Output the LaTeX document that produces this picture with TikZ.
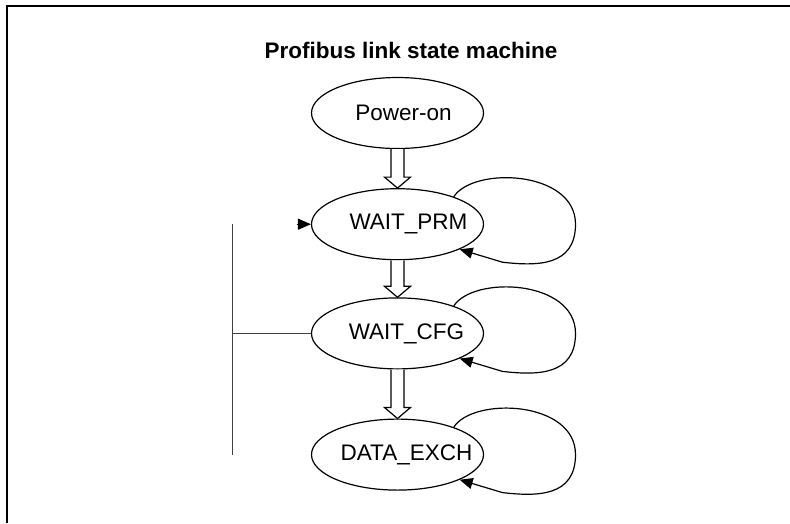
\documentclass[tikz,border=0pt]{standalone}
\usepackage{fontspec}
\setmainfont{Liberation Sans}
\usetikzlibrary{positioning,arrows.meta,calc,shapes.geometric}
\tikzset{
  st/.style={draw,ellipse,line width=1.2pt,minimum width=172pt,minimum height=71pt,inner sep=0pt},
  lbl/.style={xshift=9pt,font=\fontsize{22.5}{26}\selectfont},
  hol/.style={draw,fill=white,line width=1.2pt,line join=miter},
  arr/.style={-{Triangle[length=13pt,width=11pt]},line width=1.2pt},
  bus/.style={draw=black!75,line width=1pt},
  frm/.style={line width=2.6pt},
}

\begin{document}
\begin{tikzpicture}[x=1pt,y=-1pt]
  \useasboundingbox (0,0) rectangle (790,523);
  \draw[frm] (7,523) -- (7,6) -- (790,6);
  \node[font=\bfseries\fontsize{22.5}{26}\selectfont] (title) at (411,50) {Profibus link state machine};
  \node[st,label={[lbl,xshift=-3pt]center:Power-on}] (pwr) at (397.5,113) {};
  \node[st,below=39pt of pwr,label={[lbl,xshift=2pt]center:WAIT\_PRM}] (prm) {};
  \node[st,below=37pt of prm,label={[lbl]center:WAIT\_CFG}] (cfg) {};
  \node[st,below=49pt of cfg,label={[lbl]center:DATA\_EXCH}] (data) {};
  % hollow arrows between states
  \foreach \a/\b in {pwr/prm,prm/cfg,cfg/data}{
    \draw[hol] ($(\a.south)+(-6.5,0)$) -- ($(\b.north)+(-6.5,-11)$) -- ($(\b.north)+(-13,-11)$)
      -- (\b.north) -- ($(\b.north)+(13,-11)$) -- ($(\b.north)+(6.5,-11)$) -- ($(\a.south)+(6.5,0)$);
  }
  % self loops
  \foreach \s in {prm,cfg,data}{
    \draw[arr] (\s.26) .. controls ($(\s.center)+(76,-58)$) and ($(\s.center)+(178,-54)$) .. ($(\s.center)+(178,0)$)
      .. controls ($(\s.center)+(178,42)$) and ($(\s.center)+(140,42)$) .. ($(\s.center)+(105,38)$) -- (\s.-22);
  }
  \coordinate[left=14pt of prm.west] (prmin);
  \draw[arr] (prmin) -- (prm.west);
  \coordinate[left=78pt of prm.west] (bustop);
  \coordinate[left=78pt of data.west] (busbot);
  \draw[bus] (bustop) -- (busbot);
  \draw[bus] (cfg.west) -- (cfg.west -| bustop);
\end{tikzpicture}
\end{document}
